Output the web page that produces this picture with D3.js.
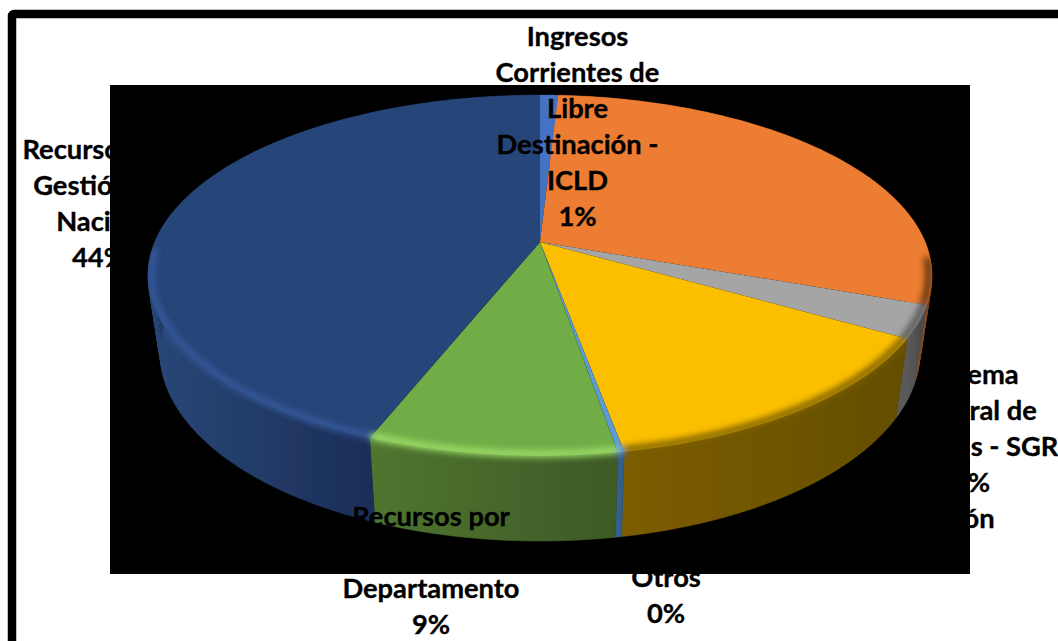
<!DOCTYPE html>
<html><head><meta charset="utf-8">
<script src="https://cdnjs.cloudflare.com/ajax/libs/d3/7.8.5/d3.min.js"></script>
<style>html,body{margin:0;padding:0;background:#fff;overflow:hidden}svg{display:block}
text{font-family:Lato,"Open Sans",sans-serif;font-weight:700;font-size:27.3px;fill:#000;stroke:#000;stroke-width:0.35px;text-anchor:middle}</style>
</head><body><svg id="c" width="1058" height="641"></svg>
<script>
// Data (percent of the total)
const categories = ["Ingresos Corrientes de Libre Destinación - ICLD", "(rebanada naranja, sin etiqueta visible)", "Sistema General de Regalías - SGR", "Cofinanciación", "Otros", "Recursos por Departamento", "Recursos del Gestión de Nación"];
const shares = [0.89, 29.6, 2.9, 13.75, 0.22, 8.6, 44.04];
// Labels: each is a list of lines
const labelLines = [
  ["Ingresos", "Corrientes de", "Libre", "Destinación -", "ICLD", "1%"],
  ["Recursos del", "Gestión de", "Nación", "44%"],
  ["Sistema", "General de", "Regalías - SGR", "3%"],
  ["Cofinanciación", "14%"],
  ["Recursos por", "", "Departamento", "9%"],
  ["Otros", "0%"]
];
const labelAnchors = [[577.5, 46], [99, 159], [971, 384], [905, 528], [431, 526], [666, 587]];
// Styles
const topColors = ["#4472c4", "#ed7d31", "#a5a5a5", "#fbbf00", "#5b9bd5", "#70ad47", "#264478"];
const wallColors = [["#2c4a80","#2c4a80"],["#8a4a1c","#6b3a14"],["#5a5a5a","#454545"],["#7c5c00","#644e00"],["#35608f","#2f5a88"],["#4f752f","#3d5a27"],["#284878","#1c2e58"]];
const rimColors = ["#4472c4","#5a3010","#555555","#7d6000","#6fa8dc","#9cdc68","#36599a"];

const svg = d3.select("#c");
// Frame
svg.append("rect").attr("x",12).attr("y",14).attr("width",2000).attr("height",2000).attr("rx",2)
   .attr("fill","#fff").attr("stroke","#000").attr("stroke-width",8.5);
// Black plot area
svg.append("rect").attr("x",110).attr("y",85).attr("width",860).attr("height",489).attr("fill","#000");

const defs = svg.append("defs");
const blur = (id,s)=>defs.append("filter").attr("id",id).attr("x","-20%").attr("y","-20%").attr("width","140%").attr("height","140%")
   .append("feGaussianBlur").attr("stdDeviation",s);
blur("soft",0.7); blur("rim",3);

// Perspective disk projection using linear scales
const persp = 0.1857;
const sx = d3.scaleLinear().domain([-1,1]).range([540-385.2,540+385.2]);
const sy = d3.scaleLinear().domain([-1,1]).range([242-174.3,242+174.3]);
const cx0 = sx(0), cy0 = sy(0);
function project(theta, r, level){
  const u = r*Math.sin(theta), v = -r*Math.cos(theta), w = 1 - persp*v;
  const kx = level ? 0.969 : 1, ky = level ? 1.047 : 1, dy = level ? 74.9 : 0;
  return [cx0 + (sx(u)-cx0)/w*kx, cy0 + (sy(v)-cy0)/w*ky + dy];
}
const line = d3.line();
const slices = d3.pie().sort(null).value(d=>d).startAngle(0).endAngle(2*Math.PI)(shares);
const step = Math.PI/180;
const anglesOf = (a0,a1)=>{const n=Math.max(2,Math.ceil((a1-a0)/step)); return d3.range(n+1).map(i=>a0+(a1-a0)*i/n);};

const topPath = s => line([[cx0,cy0], ...anglesOf(s.startAngle,s.endAngle).map(t=>project(t,1,0))])+"Z";
const wallPath = s => {
  const as = anglesOf(s.startAngle,s.endAngle); let d="";
  for(let i=0;i<as.length-1;i++){
    d += line([project(as[i],1,0),project(as[i+1],1,0),project(as[i+1],1,1),project(as[i],1,1)])+"Z";
  }
  return d;
};
const clip = defs.append("clipPath").attr("id","pieClip");
clip.selectAll("path.t").data(slices).join("path").attr("d",topPath);
clip.selectAll("path.w").data(slices).join("path").attr("d",wallPath);

// Wall gradients
const xRange = s => { const xs = anglesOf(s.startAngle,s.endAngle).filter(t=>t>Math.PI/2&&t<1.6*Math.PI).map(t=>project(t,1,0)[0]); return xs.length?d3.extent(xs):[148,932]; };
slices.forEach((s,i)=>{
  const [x0,x1]=xRange(s);
  const g=defs.append("linearGradient").attr("id","w"+i).attr("gradientUnits","userSpaceOnUse").attr("x1",x0).attr("x2",x1).attr("y1",0).attr("y2",0);
  g.append("stop").attr("offset",0).attr("stop-color",wallColors[i][0]);
  g.append("stop").attr("offset",1).attr("stop-color",wallColors[i][1]);
});

const pie = svg.append("g").attr("filter","url(#soft)");
pie.selectAll("path.wall").data(slices).join("path").attr("class","wall")
   .attr("d",wallPath).attr("fill",(d,i)=>`url(#w${i})`).attr("stroke",(d,i)=>`url(#w${i})`).attr("stroke-width",0.5);
pie.selectAll("path.top").data(slices).join("path").attr("class","top")
   .attr("d",topPath).attr("fill",(d,i)=>topColors[i]);

// Bevelled rim on the front half of the disk
const rimG = pie.append("g").attr("clip-path","url(#pieClip)").append("g").attr("filter","url(#rim)");
rimG.selectAll("path").data(slices).join("path")
   .attr("d",s=>{
     const a0=Math.max(s.startAngle,95*step), a1=Math.min(s.endAngle,268*step);
     if(a1<=a0) return null;
     return line(anglesOf(a0,a1).map(t=>project(t,0.992,0)));
   })
   .attr("fill","none").attr("stroke",(d,i)=>rimColors[i]).attr("stroke-width",7);

// Labels (black text on top; it merges with the black plot area)
labelLines.forEach((lines,i)=>{
  const [x,y]=labelAnchors[i];
  svg.append("g").selectAll("text").data(lines).join("text")
    .attr("x",x).attr("y",(d,j)=>y+36*j).text(d=>d);
});
</script></body></html>
